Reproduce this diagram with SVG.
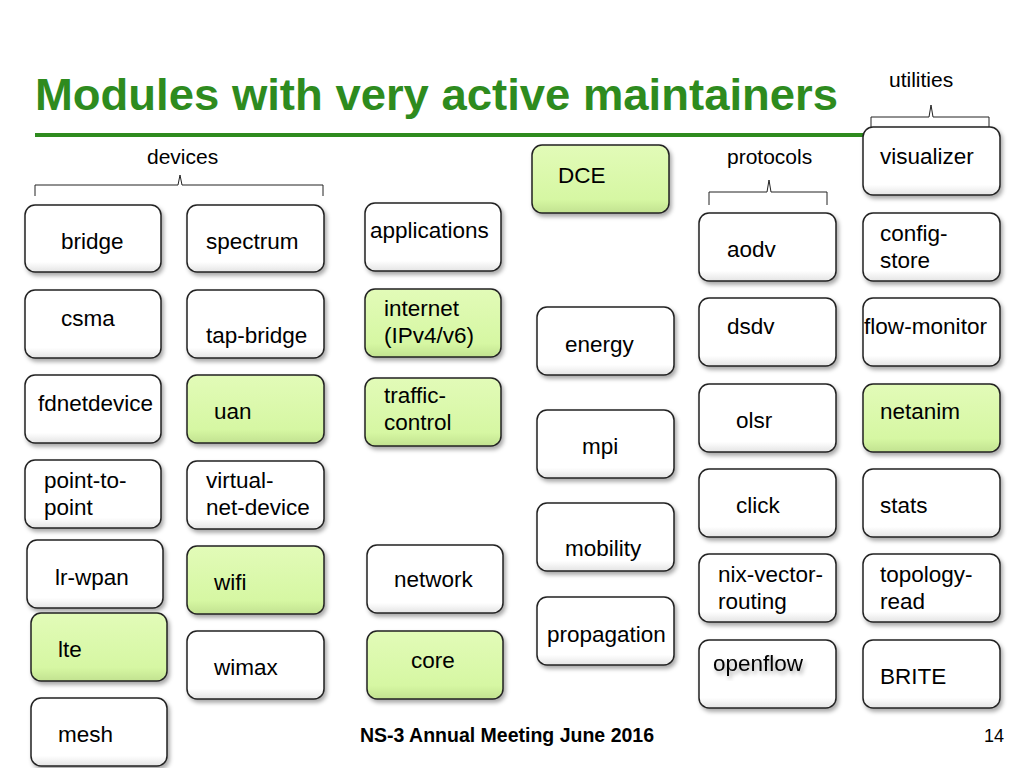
<svg xmlns="http://www.w3.org/2000/svg" width="1024" height="768" viewBox="0 0 1024 768">
<defs>
<filter id="sh" x="-10%" y="-10%" width="130%" height="130%"><feDropShadow dx="2" dy="3" stdDeviation="2" flood-color="#000" flood-opacity="0.35"/></filter>
<linearGradient id="gw" x1="0" y1="0" x2="0" y2="1"><stop offset="0" stop-color="#ffffff"/><stop offset="0.85" stop-color="#ffffff"/><stop offset="1" stop-color="#e4e4e4"/></linearGradient>
<linearGradient id="gg" x1="0" y1="0" x2="0" y2="1"><stop offset="0" stop-color="#e2fbb8"/><stop offset="0.8" stop-color="#d6f7a3"/><stop offset="1" stop-color="#c2e290"/></linearGradient>
</defs>
<style>
.b{fill:url(#gw);stroke:#222;stroke-width:1.5;filter:url(#sh)}
.g{fill:url(#gg);stroke:#222;stroke-width:1.5;filter:url(#sh)}
text{font-family:"Liberation Sans",Arial,sans-serif;font-size:22.5px;fill:#000}
.br{fill:none;stroke:#222;stroke-width:1}
</style>
<rect width="1024" height="768" fill="#fff"/>
<text x="35" y="110" textLength="803" lengthAdjust="spacingAndGlyphs" style="font-size:45px;font-weight:bold;fill:#2e8b1e">Modules with very active maintainers</text>
<rect x="35" y="133" width="835" height="4" fill="#2e8b1e"/>
<g id="labels">
<text x="147" y="164" style="font-size:21px">devices</text>
<text x="727" y="164" style="font-size:21px">protocols</text>
<text x="889" y="87" style="font-size:21px">utilities</text>
</g>
<g id="connectors">
<path class="br" d="M35,196 V185 H178 L180,175 L182,185 H323 V196"/>
<path class="br" d="M709,205 V192 H767 L769,180 L771,192 H827 V205"/>
<path class="br" d="M871,128 V117 H929 L931,105 L933,117 H989 V128"/>
</g>
<g id="n-bridge"><rect class="b" x="25" y="205" width="136" height="67" rx="10"/><text x="61" y="249">bridge</text></g>
<g id="n-csma"><rect class="b" x="25" y="290" width="136" height="68" rx="10"/><text x="61" y="326">csma</text></g>
<g id="n-fdnetdevice"><rect class="b" x="25" y="375" width="136" height="68" rx="10"/><text x="38" y="411">fdnetdevice</text></g>
<g id="n-p2p"><rect class="b" x="25" y="460" width="136" height="68" rx="10"/><text x="44" y="488">point-to-</text><text x="44" y="515">point</text></g>
<g id="n-lrwpan"><rect class="b" x="27" y="540" width="136" height="68" rx="10"/><text x="55" y="585">lr-wpan</text></g>
<g id="n-lte"><rect class="g" x="31" y="613" width="136" height="68" rx="10"/><text x="58" y="657">lte</text></g>
<g id="n-mesh"><rect class="b" x="31" y="698" width="136" height="68" rx="10"/><text x="58" y="742">mesh</text></g>
<g id="n-spectrum"><rect class="b" x="187" y="205" width="137" height="67" rx="10"/><text x="206" y="249">spectrum</text></g>
<g id="n-tapbridge"><rect class="b" x="187" y="290" width="137" height="68" rx="10"/><text x="206" y="343">tap-bridge</text></g>
<g id="n-uan"><rect class="g" x="187" y="375" width="137" height="68" rx="10"/><text x="214" y="419">uan</text></g>
<g id="n-vnd"><rect class="b" x="187" y="461" width="137" height="68" rx="10"/><text x="206" y="488">virtual-</text><text x="206" y="515">net-device</text></g>
<g id="n-wifi"><rect class="g" x="187" y="546" width="137" height="68" rx="10"/><text x="214" y="590">wifi</text></g>
<g id="n-wimax"><rect class="b" x="187" y="631" width="137" height="68" rx="10"/><text x="214" y="675">wimax</text></g>
<g id="n-applications"><rect class="b" x="365" y="203" width="136" height="68" rx="10"/><text x="370" y="238">applications</text></g>
<g id="n-internet"><rect class="g" x="365" y="289" width="136" height="68" rx="10"/><text x="384" y="316">internet</text><text x="384" y="343">(IPv4/v6)</text></g>
<g id="n-tc"><rect class="g" x="365" y="378" width="136" height="68" rx="10"/><text x="384" y="403">traffic-</text><text x="384" y="430">control</text></g>
<g id="n-network"><rect class="b" x="367" y="545" width="136" height="68" rx="10"/><text x="394" y="587">network</text></g>
<g id="n-core"><rect class="g" x="367" y="631" width="136" height="68" rx="10"/><text x="411" y="668">core</text></g>
<g id="n-dce"><rect class="g" x="532" y="145" width="137" height="68" rx="10"/><text x="558" y="183">DCE</text></g>
<g id="n-energy"><rect class="b" x="537" y="307" width="137" height="68" rx="10"/><text x="565" y="352">energy</text></g>
<g id="n-mpi"><rect class="b" x="537" y="410" width="137" height="68" rx="10"/><text x="582" y="454">mpi</text></g>
<g id="n-mobility"><rect class="b" x="537" y="503" width="137" height="68" rx="10"/><text x="565" y="556">mobility</text></g>
<g id="n-propagation"><rect class="b" x="537" y="597" width="137" height="68" rx="10"/><text x="547" y="642">propagation</text></g>
<g id="n-aodv"><rect class="b" x="699" y="213" width="137" height="68" rx="10"/><text x="727" y="257">aodv</text></g>
<g id="n-dsdv"><rect class="b" x="699" y="298" width="137" height="68" rx="10"/><text x="727" y="334">dsdv</text></g>
<g id="n-olsr"><rect class="b" x="699" y="384" width="137" height="68" rx="10"/><text x="736" y="428">olsr</text></g>
<g id="n-click"><rect class="b" x="699" y="469" width="137" height="68" rx="10"/><text x="736" y="513">click</text></g>
<g id="n-nix"><rect class="b" x="699" y="554" width="137" height="68" rx="10"/><text x="718" y="582">nix-vector-</text><text x="718" y="609">routing</text></g>
<g id="n-openflow"><rect class="b" x="699" y="640" width="137" height="68" rx="10"/><text x="713" y="671" style="filter:url(#sh)">openflow</text></g>
<g id="n-visualizer"><rect class="b" x="863" y="127" width="137" height="68" rx="10"/><text x="880" y="164">visualizer</text></g>
<g id="n-config"><rect class="b" x="863" y="213" width="137" height="68" rx="10"/><text x="880" y="241">config-</text><text x="880" y="268">store</text></g>
<g id="n-flow"><rect class="b" x="863" y="298" width="137" height="68" rx="10"/><text x="864" y="334" textLength="123" lengthAdjust="spacingAndGlyphs">flow-monitor</text></g>
<g id="n-netanim"><rect class="g" x="863" y="384" width="137" height="68" rx="10"/><text x="880" y="419">netanim</text></g>
<g id="n-stats"><rect class="b" x="863" y="469" width="137" height="68" rx="10"/><text x="880" y="513">stats</text></g>
<g id="n-topo"><rect class="b" x="863" y="554" width="137" height="68" rx="10"/><text x="880" y="582">topology-</text><text x="880" y="609">read</text></g>
<g id="n-brite"><rect class="b" x="863" y="640" width="137" height="68" rx="10"/><text x="880" y="684">BRITE</text></g>
<text x="360" y="742" style="font-size:19.5px;font-weight:bold">NS-3 Annual Meeting June 2016</text>
<text x="984" y="742" style="font-size:18px">14</text>
</svg>
